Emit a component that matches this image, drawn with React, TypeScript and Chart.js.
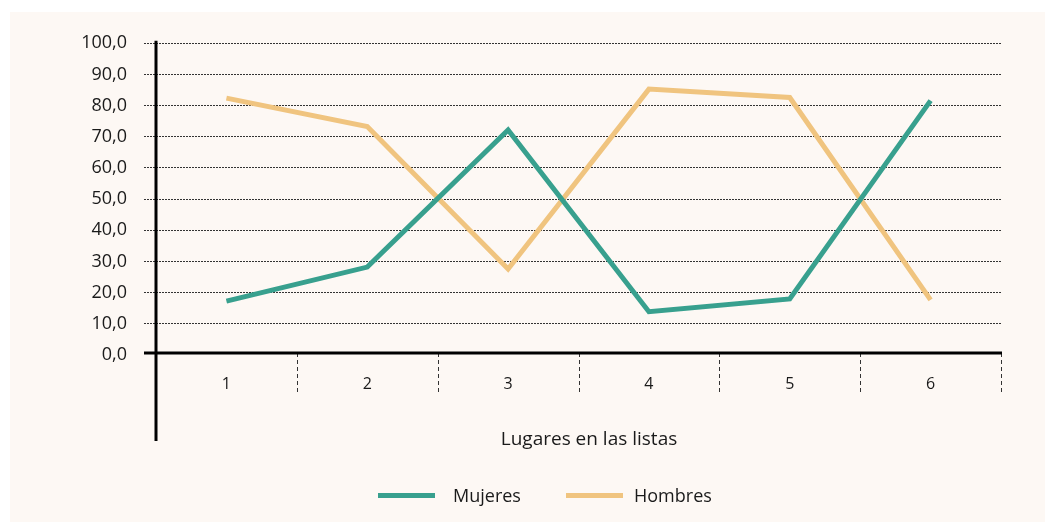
import { useEffect, useRef } from 'react';
import { Chart, registerables } from 'chart.js';

Chart.register(...registerables);

const categories = ['1', '2', '3', '4', '5', '6'];
const mujeres = [17.3, 28.2, 72.2, 13.9, 18.0, 81.6];
const hombres = [82.4, 73.3, 27.6, 85.3, 82.6, 17.7];
const seriesNames = ['Mujeres', 'Hombres'];
const seriesColors = ['#38a08e', '#f0c47f'];
const xTitle = 'Lugares en las listas';
const yMin = 0;
const yMax = 100;
const yStep = 10;

const FONT = "'Open Sans', sans-serif";

const decor = {
  id: 'decor',
  beforeDraw(chart: any) {
    const { ctx } = chart;
    ctx.save();
    ctx.fillStyle = '#fdf8f4';
    ctx.fillRect(10, 12, 1035, 510);
    ctx.restore();
  },
  afterDraw(chart: any) {
    const { ctx, chartArea, scales } = chart;
    const x = scales.x;
    const y = scales.y;
    const y0 = y.getPixelForValue(0) - 2;
    ctx.save();
    // category dividers
    ctx.strokeStyle = '#333';
    ctx.lineWidth = 1;
    ctx.setLineDash([4, 3]);
    for (let i = 1; i <= categories.length; i++) {
      const px = Math.round(x.getPixelForValue(i - 0.5)) + 0.5;
      ctx.beginPath();
      ctx.moveTo(px, y0);
      ctx.lineTo(px, 395);
      ctx.stroke();
    }
    ctx.setLineDash([]);
    // axes
    ctx.strokeStyle = '#000';
    ctx.lineWidth = 3;
    ctx.beginPath();
    ctx.moveTo(chartArea.left - 12, y0);
    ctx.lineTo(chartArea.right + 1, y0);
    ctx.stroke();
    ctx.beginPath();
    ctx.moveTo(chartArea.left, chartArea.top - 2.5);
    ctx.lineTo(chartArea.left, 441);
    ctx.stroke();
    // x title
    ctx.fillStyle = '#1a1a1a';
    ctx.font = `19px ${FONT}`;
    ctx.textAlign = 'center';
    ctx.textBaseline = 'middle';
    ctx.fillText(xTitle, 589, 440);
    // legend
    const legendItems = [
      { sx: 378, tx: 453 },
      { sx: 566, tx: 634 },
    ];
    ctx.font = `18px ${FONT}`;
    ctx.textAlign = 'left';
    legendItems.forEach((it, i) => {
      ctx.fillStyle = seriesColors[i];
      ctx.fillRect(it.sx, 493, 57, 5);
      ctx.fillStyle = '#1a1a1a';
      ctx.fillText(seriesNames[i], it.tx, 497);
    });
    ctx.restore();
  },
};

export default function App() {
  const ref = useRef<HTMLCanvasElement>(null);
  useEffect(() => {
    if (!ref.current) return;
    const chart = new Chart(ref.current, {
      type: 'line',
      data: {
        labels: categories,
        datasets: [
          {
            label: seriesNames[0],
            data: mujeres,
            borderColor: seriesColors[0],
            backgroundColor: seriesColors[0],
            borderWidth: 5,
            pointRadius: 0,
            tension: 0,
            borderJoinStyle: 'miter',
            borderCapStyle: 'butt',
          },
          {
            label: seriesNames[1],
            data: hombres,
            borderColor: seriesColors[1],
            backgroundColor: seriesColors[1],
            borderWidth: 5,
            pointRadius: 0,
            tension: 0,
            borderJoinStyle: 'miter',
            borderCapStyle: 'butt',
          },
        ],
      },
      options: {
        responsive: false,
        animation: false,
        devicePixelRatio: 1,
        layout: { padding: { left: 0, right: 54, top: 43.3, bottom: 0 } },
        plugins: {
          legend: { display: false },
          tooltip: { enabled: false },
        },
        scales: {
          x: {
            type: 'category',
            offset: true,
            grid: { display: false },
            border: { display: false },
            ticks: {
              color: '#1a1a1a',
              font: { family: FONT, size: 16 },
              padding: 12,
              maxRotation: 0,
            },
            afterFit(scale: any) {
              scale.height = 177;
            },
          },
          y: {
            min: yMin,
            max: yMax,
            grid: {
              color: (c: any) => (c.tick && c.tick.value === 0 ? 'rgba(0,0,0,0)' : '#333'),
              lineWidth: 1,
              drawTicks: true,
              tickLength: 12,
              tickColor: (c: any) => (c.tick && c.tick.value === 0 ? 'rgba(0,0,0,0)' : '#333'),
              tickBorderDash: [2, 1],
              borderDash: [2, 1],
            } as any,
            border: { display: false, dash: [2, 1] },
            ticks: {
              stepSize: yStep,
              color: '#1a1a1a',
              font: { family: FONT, size: 18 },
              padding: 17,
              callback: (v: any) => Number(v).toFixed(1).replace('.', ','),
            },
            afterFit(scale: any) {
              scale.width = 156;
            },
          },
        },
      },
      plugins: [decor],
    });
    return () => chart.destroy();
  }, []);
  return (
    <div style={{ position: 'fixed', left: 0, top: 0, width: 1055, height: 532, background: '#fff' }}>
      <canvas ref={ref} width={1055} height={532} />
    </div>
  );
}
